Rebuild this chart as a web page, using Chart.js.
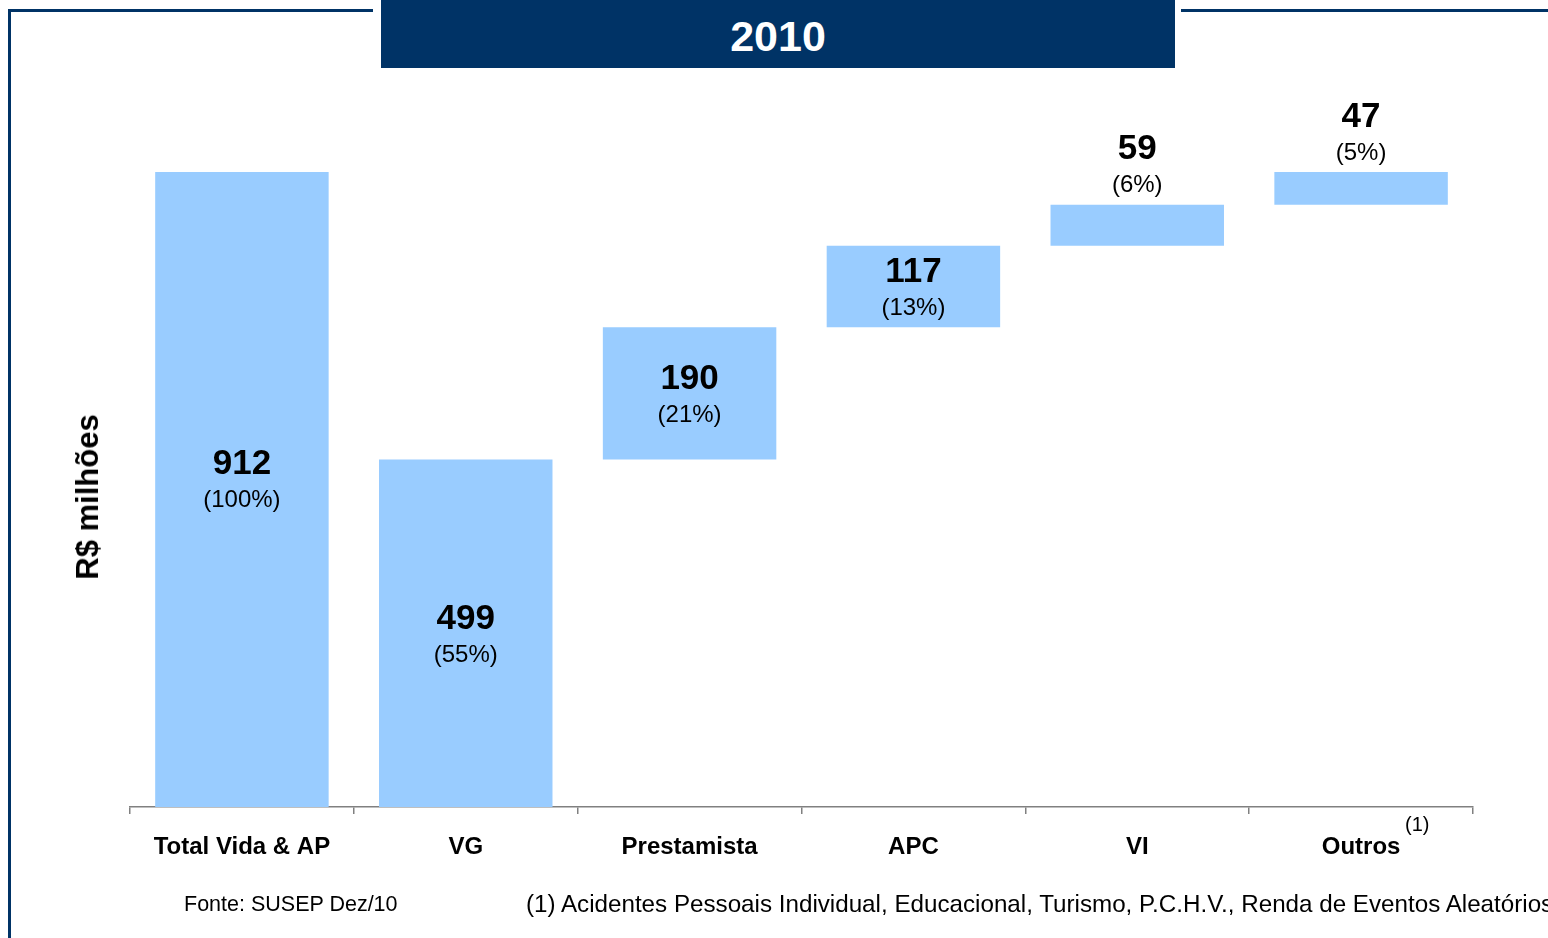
<!DOCTYPE html>
<html>
<head>
<meta charset="utf-8">
<script src="https://cdn.jsdelivr.net/npm/chart.js@4.4.1/dist/chart.umd.min.js"></script>
<style>
    html, body { margin:0; padding:0; background:#fff; }
    body { width:1548px; height:938px; position:relative; overflow:hidden; font-family:'Liberation Sans', Arial, sans-serif; }
    #chartBox { position:absolute; left:0; top:0; width:1548px; height:938px; }
    .frame-top { position:absolute; top:9px; height:3px; background:#003366; }
    .frame-left { position:absolute; left:8px; top:9px; width:3px; height:929px; background:#003366; }
    .banner { position:absolute; left:381px; top:0; width:794px; height:68px; background:#003366; color:#fff; font-weight:bold; font-size:43px; text-align:center; }
    .banner span { position:absolute; left:0; right:0; top:12px; line-height:48px; }
    .y-title { position:absolute; left:88px; top:497px; transform:translate(-50%,-50%) rotate(-90deg); font-weight:bold; font-size:31px; white-space:nowrap; }
    .note { position:absolute; white-space:nowrap; color:#000; }
</style>
</head>
<body>
<div class="frame-top" style="left:8px; width:365px;"></div>
<div class="frame-top" style="left:1181px; width:367px;"></div>
<div class="frame-left"></div>
<div class="banner"><span>2010</span></div>
<div id="chartBox"><canvas id="wfChart" width="1548" height="938"></canvas></div>
<div class="y-title">R$ milhões</div>
<div class="note" style="left:1405px; top:813px; font-size:20px;">(1)</div>
<div class="note" style="left:184px; top:892px; font-size:21.5px;">Fonte: SUSEP Dez/10</div>
<div class="note" style="left:526px; top:890px; font-size:24.2px;">(1) Acidentes Pessoais Individual, Educacional, Turismo, P.C.H.V., Renda de Eventos Aleatórios</div>

<script>
// ==================== dados ====================
const categorias = ['Total Vida & AP', 'VG', 'Prestamista', 'APC', 'VI', 'Outros'];
const valores = [912, 499, 190, 117, 59, 47];
const participacao = ['(100%)', '(55%)', '(21%)', '(13%)', '(6%)', '(5%)'];

// barras flutuantes: total e VG partem do zero, o resto empilha a partir do VG
let acumulado = 0;
const faixas = valores.map((v, i) => {
    if (i === 0) return [0, v];
    let ini = acumulado;
    acumulado += v;
    return [ini, acumulado];
});

const rotulosBarras = {
    id: 'rotulosBarras',
    afterDatasetsDraw(chart) {
        const ctx = chart.ctx;
        const meta = chart.getDatasetMeta(0);
        ctx.save();
        ctx.textAlign = 'center';
        ctx.textBaseline = 'middle';
        ctx.fillStyle = '#000';
        meta.data.forEach((bar, i) => {
            let top = bar.y, base = bar.base;
            let h = base - top;
            let yNum, yPct;
            if (h > 60) {
                let mid = (top + base) / 2;
                // a barra do total tem os rótulos um pouco mais acima
                let desloc = (i === 0) ? -25 : -14;
                yNum = mid + desloc;
                yPct = yNum + 36;
            } else {
                yPct = top - 19;
                yNum = top - 55;
            }
            ctx.font = "bold 35px 'Liberation Sans', Arial, sans-serif";
            ctx.fillText(String(valores[i]), bar.x, yNum);
            ctx.font = "24px 'Liberation Sans', Arial, sans-serif";
            ctx.fillText(participacao[i], bar.x, yPct);
        });
        ctx.restore();
    }
};

new Chart(document.getElementById('wfChart').getContext('2d'), {
    type: 'bar',
    data: {
        labels: categorias,
        datasets: [{
            data: faixas,
            backgroundColor: '#99CCFF',
            borderWidth: 0,
            barPercentage: 0.775,
            categoryPercentage: 1.0
        }]
    },
    options: {
        responsive: false,
        animation: false,
        layout: { padding: { left: 130, right: 75, top: 0, bottom: 0 } },
        plugins: { legend: { display: false }, tooltip: { enabled: false } },
        scales: {
            x: {
                grid: { display: true, drawOnChartArea: false, offset: true, tickLength: 7, color: '#808080', lineWidth: 1.5 },
                border: { color: '#808080', width: 1.5 },
                ticks: { color: '#000', padding: 19, maxRotation: 0, font: { family: "'Liberation Sans', Arial, sans-serif", size: 24, weight: 'bold' } },
                afterFit: s => { s.height = 131; }
            },
            y: { display: false, min: 0, max: 1159 }
        }
    },
    plugins: [rotulosBarras]
});
</script>
</body>
</html>
